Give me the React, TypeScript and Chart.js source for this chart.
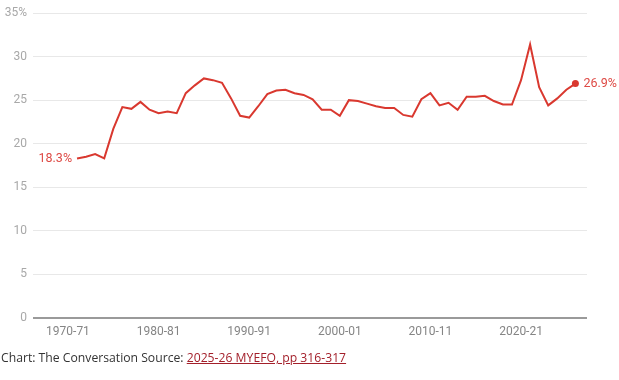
import { useEffect, useRef } from 'react';
import { Chart, registerables } from 'chart.js';

Chart.register(...registerables);

// Financial years (data)
const fiscalYears: string[] = [
  '1970-71', '1971-72', '1972-73', '1973-74', '1974-75', '1975-76', '1976-77', '1977-78', '1978-79', '1979-80',
  '1980-81', '1981-82', '1982-83', '1983-84', '1984-85', '1985-86', '1986-87', '1987-88', '1988-89', '1989-90',
  '1990-91', '1991-92', '1992-93', '1993-94', '1994-95', '1995-96', '1996-97', '1997-98', '1998-99', '1999-00',
  '2000-01', '2001-02', '2002-03', '2003-04', '2004-05', '2005-06', '2006-07', '2007-08', '2008-09', '2009-10',
  '2010-11', '2011-12', '2012-13', '2013-14', '2014-15', '2015-16', '2016-17', '2017-18', '2018-19', '2019-20',
  '2020-21', '2021-22', '2022-23', '2023-24', '2024-25', '2025-26',
];

// Share of GDP (%)
const shareOfGdp: number[] = [
  18.3, 18.5, 18.8, 18.3, 21.7, 24.2, 24.0, 24.8, 23.9, 23.5,
  23.7, 23.5, 25.8, 26.7, 27.5, 27.3, 27.0, 25.2, 23.2, 23.0,
  24.3, 25.7, 26.1, 26.2, 25.8, 25.6, 25.1, 23.9, 23.9, 23.2,
  25.0, 24.9, 24.6, 24.3, 24.1, 24.1, 23.3, 23.1, 25.1, 25.8,
  24.4, 24.7, 23.9, 25.4, 25.4, 25.5, 24.9, 24.5, 24.5, 27.3,
  31.4, 26.5, 24.4, 25.2, 26.2, 26.9,
];

// Axis ticks
const xTickValues: number[] = [1970, 1980, 1990, 2000, 2010, 2020];
const xTickLabels: string[] = ['1970-71', '1980-81', '1990-91', '2000-01', '2010-11', '2020-21'];
const yTickValues: number[] = [0, 5, 10, 15, 20, 25, 30, 35];
const X_MIN = 1966.14;
const X_MAX = 2027.28;

const RED = '#d9382f';
const LABEL_RED = '#de4a45';

const endLabels = {
  id: 'endLabels',
  afterDatasetsDraw(chart: any) {
    const meta = chart.getDatasetMeta(0);
    const pts = meta.data;
    if (!pts.length) return;
    const ctx = chart.ctx;
    ctx.save();
    ctx.font = '12.5px Roboto';
    ctx.fillStyle = LABEL_RED;
    ctx.textBaseline = 'middle';
    const first = pts[0];
    const last = pts[pts.length - 1];
    ctx.textAlign = 'right';
    ctx.fillText(shareOfGdp[0].toFixed(1) + '%', first.x - 5, first.y);
    ctx.textAlign = 'left';
    ctx.fillText(shareOfGdp[shareOfGdp.length - 1].toFixed(1) + '%', last.x + 8, last.y);
    ctx.restore();
  },
};

export default function App() {
  const ref = useRef<HTMLCanvasElement | null>(null);

  useEffect(() => {
    document.body.style.margin = '0';
    const canvas = ref.current;
    if (!canvas) return;
    const points = fiscalYears.map((fy, i) => ({ x: parseInt(fy.slice(0, 4), 10) + 1, y: shareOfGdp[i] }));
    const lastIdx = points.length - 1;
    const chart = new Chart(canvas, {
      type: 'line',
      data: {
        datasets: [
          {
            data: points,
            borderColor: RED,
            backgroundColor: RED,
            borderWidth: 2,
            tension: 0,
            pointRadius: (c: any) => (c.dataIndex === lastIdx ? 3.5 : 0),
            pointHoverRadius: 0,
            pointBorderWidth: 0,
          },
        ],
      },
      options: {
        responsive: false,
        animation: false,
        devicePixelRatio: 1,
        layout: { padding: { top: 13, right: 32, left: 0, bottom: 0 } },
        plugins: { legend: { display: false }, tooltip: { enabled: false } },
        scales: {
          x: {
            type: 'linear',
            min: X_MIN,
            max: X_MAX,
            afterFit: (s: any) => {
              s.height = 62.5;
            },
            afterBuildTicks: (s: any) => {
              s.ticks = xTickValues.map((v) => ({ value: v }));
            },
            grid: { display: false, drawTicks: false },
            border: { display: false },
            ticks: {
              autoSkip: false,
              maxRotation: 0,
              padding: 7,
              color: '#858585',
              font: { family: 'Roboto', size: 12 },
              callback: (v: any) => {
                const i = xTickValues.indexOf(Number(v));
                return i >= 0 ? xTickLabels[i] : '';
              },
            },
          },
          y: {
            min: 0,
            max: 35,
            afterFit: (s: any) => {
              s.width = 33;
            },
            afterBuildTicks: (s: any) => {
              s.ticks = yTickValues.map((v) => ({ value: v }));
            },
            border: { display: false },
            grid: {
              drawTicks: false,
              color: (c: any) => (c.tick && c.tick.value === 0 ? '#9a9a9a' : '#e8e8e8'),
              lineWidth: (c: any) => (c.tick && c.tick.value === 0 ? 2 : 1),
            },
            ticks: {
              padding: 6,
              color: '#a8a8a8',
              font: { family: 'Roboto', size: 12 },
              callback: (v: any) => (Number(v) === 35 ? '35%' : String(v)),
            },
          },
        },
      },
      plugins: [endLabels],
    });
    return () => chart.destroy();
  }, []);

  return (
    <div style={{ position: 'relative', width: 619, height: 380, background: '#fff' }}>
      <canvas ref={ref} width={619} height={380} style={{ display: 'block' }} />
      <div
        style={{
          position: 'absolute',
          left: 1,
          top: 350,
          fontFamily: '"Open Sans", sans-serif',
          fontSize: 12.2,
          lineHeight: '16px',
          color: '#333',
          whiteSpace: 'nowrap',
        }}
      >
        Chart: The Conversation Source:{' '}
        <a href="#" style={{ color: '#a31f2a', textDecoration: 'underline' }}>
          2025-26 MYEFO, pp 316-317
        </a>
      </div>
    </div>
  );
}
